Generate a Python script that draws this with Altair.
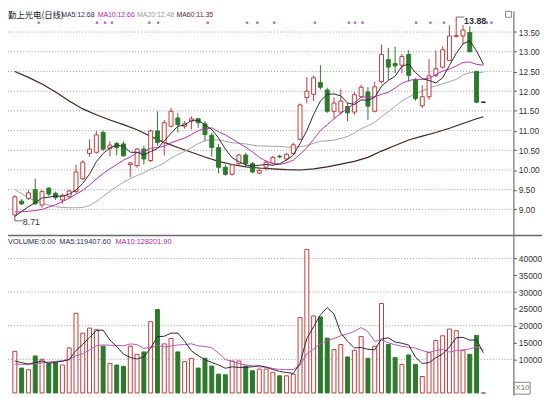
import altair as alt
import pandas as pd

# ---------------- data ----------------
opens = [8.86, 9.21, 9.28, 9.50, 9.11, 9.54, 9.41, 9.24, 9.32, 9.45,
         9.78, 10.42, 10.45, 10.95, 10.55, 10.67, 10.66, 10.14, 10.11, 10.53,
         10.24, 10.99, 10.70, 11.11, 11.32, 11.11, 11.24, 11.30, 11.17, 10.88,
         10.57, 10.07, 9.89, 10.16, 10.38, 10.16, 9.92, 10.07, 10.17, 10.35,
         10.28, 10.42, 10.78, 11.84, 11.92, 12.22, 12.03, 11.49, 11.47, 11.61,
         11.47, 11.86, 11.98, 11.49, 12.24, 12.80, 12.70, 12.66, 12.93, 12.28,
         11.63, 11.86, 12.40, 12.61, 12.78, 13.39, 13.40, 13.49, 12.50, 11.72]
closes = [9.32, 9.14, 9.42, 9.14, 9.45, 9.39, 9.30, 9.36, 9.47, 9.95,
          10.20, 10.53, 10.89, 10.53, 10.63, 10.57, 10.36, 10.18, 10.53, 10.28,
          10.99, 10.70, 11.20, 11.49, 11.15, 11.17, 11.30, 11.20, 10.90, 10.57,
          10.07, 9.89, 10.13, 10.38, 10.16, 9.95, 9.99, 10.20, 10.32, 10.33,
          10.40, 10.64, 11.65, 12.00, 12.34, 12.10, 11.49, 11.70, 11.75, 11.45,
          11.91, 12.10, 11.62, 12.11, 12.93, 12.61, 12.64, 12.88, 12.40, 11.81,
          11.86, 12.39, 12.57, 13.05, 13.40, 13.41, 13.55, 13.00, 11.72, 11.72]
highs = [9.36, 9.26, 9.49, 9.78, 9.49, 9.56, 9.45, 9.40, 9.49, 10.13,
         10.25, 10.78, 10.99, 11.00, 10.73, 10.72, 10.73, 10.20, 10.56, 10.62,
         11.03, 11.49, 11.27, 11.57, 11.45, 11.24, 11.36, 11.32, 11.24, 10.95,
         10.66, 10.14, 10.15, 10.42, 10.44, 10.20, 10.07, 10.26, 10.36, 10.39,
         10.44, 10.69, 11.69, 12.36, 12.40, 12.66, 12.09, 11.84, 12.06, 11.70,
         11.98, 12.16, 12.10, 12.24, 13.18, 13.10, 13.13, 12.94, 13.04, 12.33,
         12.15, 12.81, 13.03, 13.14, 13.67, 13.88, 13.68, 13.65, 12.52, 11.72]
lows = [8.71, 9.11, 9.24, 9.12, 9.04, 9.33, 9.24, 9.14, 9.28, 9.42,
        9.75, 10.34, 10.42, 10.49, 10.34, 10.37, 10.34, 9.82, 10.06, 10.14,
        10.20, 10.62, 10.37, 11.08, 10.95, 11.05, 11.03, 11.07, 10.74, 10.34,
        9.92, 9.85, 9.86, 10.10, 10.08, 9.91, 9.89, 9.99, 10.14, 10.30,
        10.24, 10.39, 10.76, 11.69, 11.75, 12.04, 11.45, 11.32, 11.40, 11.24,
        11.40, 11.82, 11.27, 11.46, 12.20, 12.28, 12.46, 12.46, 12.24, 11.76,
        11.57, 11.78, 12.36, 12.57, 12.76, 13.36, 13.19, 12.99, 11.70, 11.72]
volumes = [12400, 7400, 6900, 11000, 10000, 8800, 9000, 8300, 13400, 23700,
           17800, 19300, 18800, 13900, 8800, 8300, 7900, 13900, 11500, 12200,
           21200, 24800, 14600, 16200, 12200, 9300, 10300, 7400, 10300, 8000,
           5600, 5400, 9500, 9500, 8000, 6600, 7100, 7100, 6100, 5100,
           5100, 5600, 22400, 42700, 22900, 22600, 16300, 12900, 14400, 10700,
           12700, 16800, 10300, 13900, 26600, 14400, 10500, 8500, 11300, 8500,
           4900, 12000, 15600, 17000, 19000, 18500, 12600, 11500, 17100, 0]

ma5 = [8.82, 8.95, 9.07, 9.17, 9.29, 9.31, 9.34, 9.33, 9.39, 9.49,
       9.66, 9.90, 10.21, 10.42, 10.56, 10.63, 10.60, 10.45, 10.45, 10.38,
       10.47, 10.54, 10.74, 10.93, 11.11, 11.14, 11.26, 11.26, 11.14, 11.03,
       10.81, 10.53, 10.31, 10.21, 10.13, 10.10, 10.12, 10.14, 10.12, 10.16,
       10.25, 10.38, 10.67, 11.00, 11.41, 11.75, 11.92, 11.93, 11.88, 11.70,
       11.66, 11.78, 11.77, 11.84, 12.13, 12.27, 12.38, 12.63, 12.69, 12.47,
       12.32, 12.27, 12.21, 12.34, 12.65, 12.96, 13.20, 13.28, 13.02, 12.68]
ma10 = [8.93, 8.94, 8.95, 8.97, 9.00, 9.06, 9.12, 9.20, 9.28, 9.39,
        9.48, 9.62, 9.77, 9.91, 10.03, 10.14, 10.25, 10.33, 10.44, 10.47,
        10.55, 10.57, 10.60, 10.69, 10.75, 10.81, 10.90, 11.00, 11.04, 11.07,
        10.97, 10.89, 10.79, 10.68, 10.58, 10.46, 10.32, 10.22, 10.17, 10.14,
        10.18, 10.25, 10.40, 10.56, 10.78, 11.00, 11.15, 11.30, 11.44, 11.55,
        11.70, 11.85, 11.85, 11.86, 11.92, 11.97, 12.08, 12.20, 12.27, 12.30,
        12.30, 12.33, 12.42, 12.51, 12.56, 12.64, 12.73, 12.74, 12.68, 12.66]
ma20 = [9.50, 9.40, 9.30, 9.22, 9.16, 9.11, 9.07, 9.05, 9.04, 9.04,
        9.05, 9.10, 9.20, 9.33, 9.46, 9.58, 9.69, 9.78, 9.86, 9.93,
        10.02, 10.09, 10.18, 10.30, 10.39, 10.47, 10.57, 10.67, 10.74, 10.77,
        10.76, 10.73, 10.69, 10.68, 10.66, 10.63, 10.61, 10.61, 10.60, 10.60,
        10.58, 10.57, 10.59, 10.62, 10.68, 10.73, 10.74, 10.76, 10.80, 10.85,
        10.94, 11.05, 11.12, 11.21, 11.35, 11.48, 11.61, 11.75, 11.85, 11.93,
        12.00, 12.09, 12.13, 12.19, 12.24, 12.30, 12.41, 12.47, 12.47, 12.48]
ma60_idx = [0, 2, 4, 6, 8, 10, 12, 14, 16, 18, 20, 22, 24, 26, 28, 30, 32, 34,
            36, 38, 40, 42, 44, 46, 48, 50, 52, 54, 56, 58, 60, 62, 64, 66, 68, 69]
ma60 = [12.50, 12.35, 12.18, 11.98, 11.75, 11.55, 11.40, 11.27, 11.15, 11.02,
        10.85, 10.70, 10.57, 10.45, 10.33, 10.22, 10.14, 10.08, 10.05, 10.03,
        10.01, 10.00, 10.03, 10.08, 10.15, 10.22, 10.32, 10.48, 10.62, 10.76,
        10.86, 10.95, 11.06, 11.18, 11.30, 11.35]

vma5 = [9500, 9000, 8600, 9000, 9540, 8820, 9140, 9420, 9900, 12640,
        14440, 16500, 18600, 18700, 15720, 13820, 11540, 10560, 10080, 10760,
        13340, 16720, 16860, 17800, 17800, 15420, 12520, 11080, 9900, 9060,
        8320, 7340, 7760, 7600, 7600, 7800, 8140, 7660, 6980, 6400,
        6100, 5800, 8860, 16180, 19740, 23240, 25380, 23480, 17820, 15380,
        13400, 13500, 12980, 12880, 16060, 16400, 15140, 14780, 14260, 10640,
        8740, 9040, 10460, 11600, 13700, 16420, 16540, 15720, 15740, 11940]
vma10 = [8600, 8500, 8500, 8700, 9000, 9200, 9400, 9600, 10000, 11090,
         11630, 12820, 14010, 14300, 14180, 14130, 14020, 14580, 14390, 13240,
         13580, 14130, 13710, 13940, 14280, 14380, 14620, 13970, 13850, 13430,
         11870, 9930, 9420, 8750, 8330, 8060, 7740, 7710, 7290, 7000,
         6950, 6970, 8260, 11580, 13070, 14670, 15590, 16170, 17000, 17560,
         18320, 19440, 18230, 15350, 15720, 14900, 14320, 13880, 13570, 13350,
         12570, 12090, 12620, 12930, 12170, 12580, 12790, 13090, 13670, 12820]

marker_idx = [3.5, 12.1, 13.3, 14.3, 19.8, 21.1, 28.4, 34.2, 35.7, 38.2,
              44.2, 49.2, 50.1, 51.2, 59.1, 61.2, 63.2, 69.5, 70.2]

price_ticks = [9.0, 9.5, 10.0, 10.5, 11.0, 11.5, 12.0, 12.5, 13.0, 13.5]
vol_ticks = [10000, 15000, 20000, 25000, 30000, 35000, 40000]
vol_grid = [10000, 20000, 30000, 40000]

# ---------------- styling ----------------
RED = "#c23a3a"
GREEN = "#2c7a2c"
FLAT = "#111111"
W, H = 513, 390
NUM_FONT = "Liberation Sans, Arial, sans-serif"
CJK_FONT = "Noto Sans CJK SC"

n = len(closes)
idx = list(range(n))
dirs = ["up" if c > o else ("down" if c < o else "flat") for o, c in zip(opens, closes)]
df = pd.DataFrame({"i": idx, "o": opens, "c": closes, "h": highs, "l": lows,
                   "v": volumes, "dir": dirs})
df["zero"] = 0
df["top"] = df[["o", "c"]].max(axis=1)
df["bot"] = df[["o", "c"]].min(axis=1)
df["stroke"] = df["dir"].map({"up": RED, "down": GREEN, "flat": FLAT})
df["fill"] = df["dir"].map({"up": "#ffffff", "down": GREEN, "flat": FLAT})
df["vstroke"] = df["dir"].map({"up": RED, "down": GREEN, "flat": RED})
df["vfill"] = df["dir"].map({"up": "#ffffff", "down": GREEN, "flat": "#ffffff"})

XS = alt.Scale(domain=[-0.2845, 72.70], nice=False, zero=False)
YP = alt.Scale(domain=[4.2875, 14.0375], nice=False, zero=False)
YV = alt.Scale(domain=[-645, 113623], nice=False, zero=False)

X = alt.X("i:Q", scale=XS, axis=None)

price_axis = alt.Axis(orient="right", values=price_ticks, format=".2f", grid=False,
                      tickSize=3, tickColor="#555", domainColor="#555",
                      labelColor="#333", labelFontSize=8.5, labelFont=NUM_FONT,
                      labelPadding=2, title=None)
vol_axis = alt.Axis(orient="right", values=vol_ticks, format="d", grid=False,
                    domain=False, tickSize=3, tickColor="#555",
                    labelColor="#333", labelFontSize=8.5, labelFont=NUM_FONT,
                    labelPadding=2, title=None)

base = alt.Chart(df)

# grids
pgrid = alt.Chart(pd.DataFrame({"p": price_ticks})).mark_rule(
    color="#9a9a9a", strokeDash=[1, 2], strokeWidth=1).encode(
    y=alt.Y("p:Q", scale=YP, axis=None), x=alt.value(0), x2=alt.value(W))
vgrid = alt.Chart(pd.DataFrame({"g": vol_grid})).mark_rule(
    color="#9a9a9a", strokeDash=[1, 2], strokeWidth=1).encode(
    y=alt.Y("g:Q", scale=YV, axis=None), x=alt.value(0), x2=alt.value(W))

# candles
wick = base.mark_rule(strokeWidth=1).encode(
    x=X, y=alt.Y("l:Q", scale=YP, axis=price_axis), y2="h:Q",
    color=alt.Color("stroke:N", scale=None))
body = base.mark_bar(size=4, strokeWidth=1).encode(
    x=X, y=alt.Y("top:Q", scale=YP, axis=None), y2="bot:Q",
    fill=alt.Fill("fill:N", scale=None), stroke=alt.Stroke("stroke:N", scale=None))

def line(vals, color, scale, xs=None, width=1.0):
    xs = idx if xs is None else xs
    d = pd.DataFrame({"i": xs, "val": vals})
    return alt.Chart(d).mark_line(color=color, strokeWidth=width).encode(
        x=X, y=alt.Y("val:Q", scale=scale, axis=None))

l60 = line(ma60, "#3d2323", YP, ma60_idx, 1.2)
l20 = line(ma20, "#a3a3a3", YP)
l10 = line(ma10, "#b233b2", YP)
l5 = line(ma5, "#2a2a33", YP)

# volume
vbar = base.mark_bar(size=4, strokeWidth=1).encode(
    x=X, y=alt.Y("v:Q", scale=YV, axis=vol_axis), y2="zero:Q",
    fill=alt.Fill("vfill:N", scale=None), stroke=alt.Stroke("vstroke:N", scale=None))
lv10 = line(vma10, "#bb55bb", YV)
lv5 = line(vma5, "#2a2a33", YV)

# markers at top
marks = alt.Chart(pd.DataFrame({"i": marker_idx})).mark_square(
    size=6, color="#b455c8", opacity=0.9).encode(x=X, y=alt.value(12))

# annotations: low & high
lo_i = lows.index(min(lows))
hi_i = highs.index(max(highs))
ann = pd.DataFrame({"i": [lo_i, hi_i], "p": [min(lows), max(highs)],
                    "t": [f"{min(lows):.2f}", f"{max(highs):.2f}"]})
lo_df = ann.iloc[[0]]
hi_df = ann.iloc[[1]]
lo_line = alt.Chart(lo_df).mark_tick(orient="horizontal", size=8, thickness=1,
                                     color="#333", xOffset=4).encode(
    x=X, y=alt.Y("p:Q", scale=YP, axis=None))
lo_text = alt.Chart(lo_df).mark_text(align="left", baseline="middle", dx=8, dy=1,
                                     fontSize=9, font=NUM_FONT, color="#333").encode(
    x=X, y=alt.Y("p:Q", scale=YP, axis=None), text="t:N")
hi_line = alt.Chart(hi_df).mark_tick(orient="horizontal", size=8, thickness=1,
                                     color="#333", xOffset=4).encode(
    x=X, y=alt.Y("p:Q", scale=YP, axis=None))
hi_text = alt.Chart(hi_df).mark_text(align="left", baseline="middle", dx=8, dy=4,
                                     fontSize=9, font=NUM_FONT, color="#333",
                                     fontWeight="bold").encode(
    x=X, y=alt.Y("p:Q", scale=YP, axis=None), text="t:N")

def label(text, x, y, color, font=NUM_FONT, size=7.5):
    return alt.Chart(pd.DataFrame({"t": [text]})).mark_text(
        align="left", baseline="middle", font=font, fontSize=size, color=color).encode(
        text="t:N", x=alt.value(x), y=alt.value(y))

labels = [
    label("勤上光电(日线)", 0, 4, "#111", CJK_FONT, 8.5),
    label("MA5:12.68", 54, 4, "#24305e", size=7),
    label("MA10:12.66", 91, 4, "#b0279f", size=7),
    label("MA20:12.48", 131, 4, "#999999", size=7),
    label("MA60:11.35", 171, 4, "#5a2436", size=7),
    label("VOLUME:0.00", 0, 235, "#1c1c3c"),
    label("MA5:119407.60", 52, 235, "#24305e"),
    label("MA10:128201.90", 109, 235, "#b0279f"),
    label("X10", 515, 383, "#777777", NUM_FONT, 8),
]

sep = alt.Chart(pd.DataFrame({"a": [0]})).mark_rule(color="#6a6a6a", strokeWidth=1.5).encode(
    x=alt.value(0), x2=alt.value(542), y=alt.value(228))
xbox = alt.Chart(pd.DataFrame({"a": [0]})).mark_rect(
    fill="#ffffff", fillOpacity=0, stroke="#888", strokeWidth=1).encode(
    x=alt.value(513.5), x2=alt.value(530), y=alt.value(377), y2=alt.value(389))
icon = alt.Chart(pd.DataFrame({"a": [0]})).mark_rect(
    fill="#ffffff", fillOpacity=0, stroke="#888", strokeWidth=1).encode(
    x=alt.value(505), x2=alt.value(511), y=alt.value(0.5), y2=alt.value(6.5))

chart = alt.layer(
    pgrid, vgrid, l60, l20, wick, body, l10, l5, vbar, lv10, lv5, marks,
    lo_line, lo_text, hi_line, hi_text, sep, xbox, icon, *labels
).resolve_scale(y="independent").properties(
    width=W, height=H,
    padding={"left": 0, "top": 0, "right": 29, "bottom": 0},
    autosize=alt.AutoSizeParams(type="none"),
    background="#ffffff",
).configure_view(stroke=None)

chart.save("out.html", embed_options={"renderer": "svg", "actions": False})
